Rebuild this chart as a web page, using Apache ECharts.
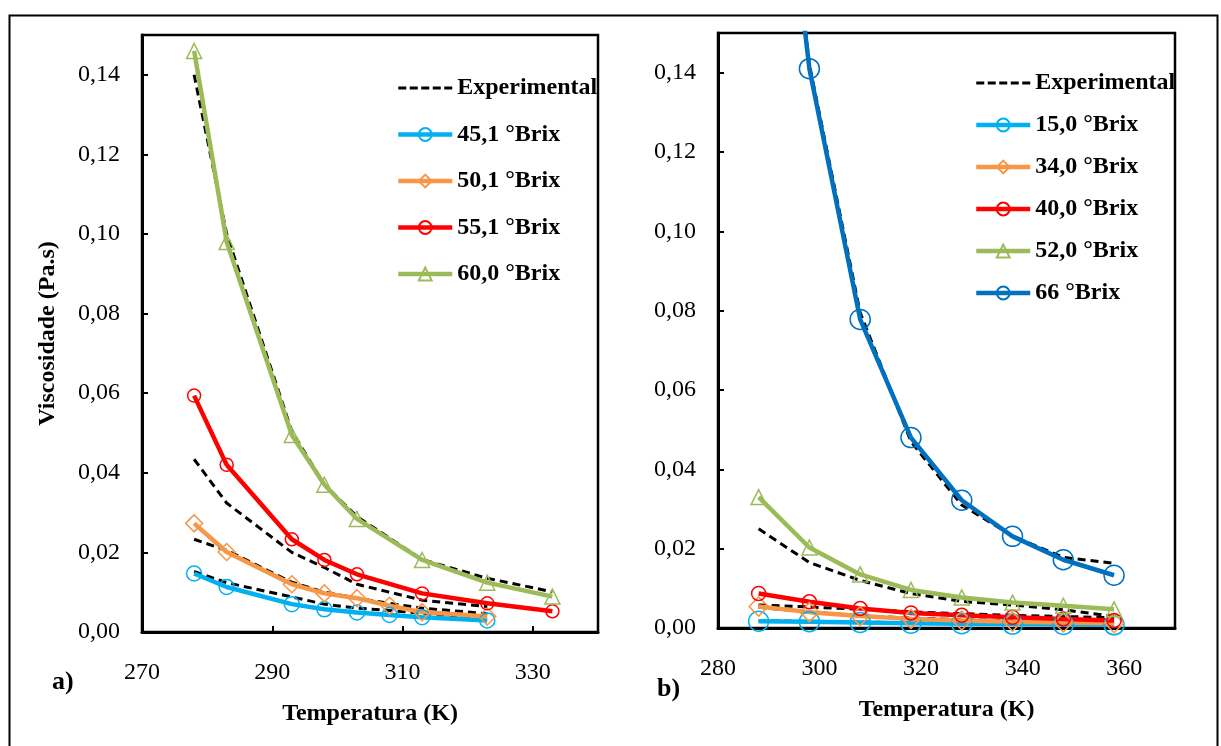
<!DOCTYPE html>
<html lang="pt">
<head>
<meta charset="UTF-8">
<title>Viscosidade x Temperatura</title>
<script src="https://cdn.jsdelivr.net/npm/echarts@6/dist/echarts.min.js"></script>
<style>
  html, body { margin: 0; padding: 0; background: #fff; }
  #main { width: 1221px; height: 746px; }
</style>
</head>
<body>
<div id="main"></div>
<script>
// ---- panel a) ----
const tempA = [278, 283, 293, 298, 303, 308, 313, 323, 333];
const mod451 = [0.0147, 0.0113, 0.0070, 0.0057, 0.0049, 0.0043, 0.0037, 0.0029, null];
const mod501 = [0.0273, 0.0201, 0.0120, 0.0097, 0.0085, 0.0066, 0.0050, 0.0039, null];
const mod551 = [0.0594, 0.0420, 0.0233, 0.0181, 0.0145, null, 0.0097, 0.0072, 0.0052];
const mod600 = [0.1460, 0.0980, 0.0495, 0.0370, 0.0284, null, 0.0181, 0.0124, 0.0089];
const exp451 = [0.0152, 0.0124, 0.0088, 0.0070, 0.0060, 0.0054, 0.0047, 0.0036, null];
const exp501 = [0.0233, 0.0205, 0.0125, 0.0100, 0.0085, 0.0072, 0.0060, 0.0046, null];
const exp551 = [0.0434, 0.0324, 0.0200, 0.0162, 0.0120, null, 0.0080, 0.0064, null];
const exp600 = [0.1400, 0.1000, 0.0504, 0.0370, 0.0290, null, 0.0182, 0.0135, 0.0101];

// ---- panel b) ----
const tempB = [288, 298, 308, 318, 328, 338, 348, 358];
const mod150 = [0.0017, 0.0016, 0.0014, 0.0012, 0.0011, 0.0010, 0.0009, 0.0008];
const mod340 = [0.0054, 0.0040, 0.0030, 0.0023, 0.0019, 0.0016, 0.0014, 0.0012];
const mod400 = [0.0087, 0.0066, 0.0049, 0.0038, 0.0032, 0.0027, 0.0023, 0.0019];
const mod520 = [0.0330, 0.0203, 0.0135, 0.0096, 0.0077, 0.0064, 0.0056, 0.0047];
const mod66 = [0.2500, 0.1410, 0.0778, 0.0480, 0.0322, 0.0231, 0.0172, 0.0133];
const exp150 = [0.0018, 0.0017, 0.0015, 0.0013, 0.0012, 0.0011, 0.0010, 0.0009];
const exp340 = [0.0052, 0.0040, 0.0031, 0.0025, 0.0021, 0.0018, 0.0016, 0.0014];
const exp400 = [0.0058, 0.0053, 0.0047, 0.0041, 0.0036, 0.0032, 0.0029, 0.0026];
const exp520 = [0.0250, 0.0165, 0.0120, 0.0087, 0.0067, 0.0058, 0.0046, 0.0029];
const exp66 = [0.2550, 0.1420, 0.0795, 0.0470, 0.0310, 0.0232, 0.0178, 0.0163];

const legendA = ['Experimental', '45,1 °Brix', '50,1 °Brix', '55,1 °Brix', '60,0 °Brix'];
const legendB = ['Experimental', '15,0 °Brix', '34,0 °Brix', '40,0 °Brix', '52,0 °Brix', '66 °Brix'];

const serif = 'Liberation Serif';
const dashIcon = 'path://M0,0h8v3h-8z M11.5,0h8v3h-8z M23,0h8v3h-8z M34.5,0h8v3h-8z M46,0h8v3h-8z';

function pairs(temps, vals) {
  return temps.map((t, i) => [t, vals[i]]).filter(p => p[1] != null);
}

function expSeries(temps, vals, gi) {
  return {
    name: 'Experimental', type: 'line', xAxisIndex: gi, yAxisIndex: gi,
    data: pairs(temps, vals), symbol: 'none', z: 2,
    lineStyle: { color: '#000', width: 3, type: [8, 5] },
    itemStyle: { color: '#000' }
  };
}

function modSeries(name, temps, vals, color, symbol, size, gi) {
  return {
    name, type: 'line', xAxisIndex: gi, yAxisIndex: gi,
    data: pairs(temps, vals), symbol, symbolSize: size, z: 3,
    lineStyle: { color, width: 4.5 },
    itemStyle: { color: 'rgba(255,255,255,0)', borderColor: color, borderWidth: 1.5 }
  };
}

const fmtY = v => v.toFixed(2).replace('.', ',');
const tickText = { color: '#000', fontFamily: serif, fontSize: 24 };
const nameText = { color: '#000', fontFamily: serif, fontSize: 24, fontWeight: 'bold' };

function xAxis(gi, min, max, showTicks) {
  return {
    gridIndex: gi, type: 'value', min, max, interval: 20,
    name: 'Temperatura (K)', nameLocation: 'middle', nameGap: 70, nameTextStyle: nameText,
    axisLine: { lineStyle: { color: '#000', width: 3 } },
    axisTick: { show: showTicks, inside: true, length: 6, lineStyle: { color: '#000', width: 2 } },
    axisLabel: { ...tickText, margin: 29, showMaxLabel: false },
    splitLine: { show: false }
  };
}

function yAxis(gi, withName) {
  return {
    gridIndex: gi, type: 'value', min: 0, max: 0.15, interval: 0.02,
    name: withName ? 'Viscosidade (Pa.s)' : '', nameLocation: 'middle', nameGap: 82,
    nameTextStyle: nameText,
    axisLine: { show: true, lineStyle: { color: '#000', width: 3 } },
    axisTick: { show: true, inside: true, length: 6, lineStyle: { color: '#000', width: 2 } },
    axisLabel: { ...tickText, margin: 22, formatter: fmtY, showMaxLabel: false },
    splitLine: { show: false }
  };
}

function legend(left, top, gap, names) {
  return {
    orient: 'vertical', left, top, itemWidth: 54, itemHeight: 16, itemGap: gap,
    lineStyle: { width: 4.5 },
    textStyle: { color: '#000', fontFamily: serif, fontSize: 24, fontWeight: 'bold', lineHeight: 24 },
    data: names.map(n => n === 'Experimental' ? { name: n, icon: dashIcon } : n)
  };
}

const option = {
  animation: false,
  backgroundColor: '#fff',
  grid: [
    { left: 142, top: 35, width: 456, height: 597, show: true, borderColor: '#000', borderWidth: 2.5 },
    { left: 718, top: 33, width: 457, height: 595, show: true, borderColor: '#000', borderWidth: 2.5 }
  ],
  xAxis: [xAxis(0, 270, 340, true), xAxis(1, 280, 370, false)],
  yAxis: [yAxis(0, true), yAxis(1, false)],
  legend: [legend(391, 71, 22.5, legendA), legend(969, 66, 18, legendB)],
  graphic: [
    { type: 'rect', left: 7, top: 13, silent: true,
      shape: { width: 1208, height: 760 }, style: { fill: 'none', stroke: '#000', lineWidth: 2 } },
    { type: 'text', left: 52, top: 669,
      style: { text: 'a)', font: 'bold 26px "Liberation Serif"', fill: '#000' } },
    { type: 'text', left: 657, top: 676,
      style: { text: 'b)', font: 'bold 26px "Liberation Serif"', fill: '#000' } }
  ],
  series: [
    expSeries(tempA, exp451, 0),
    expSeries(tempA, exp501, 0),
    expSeries(tempA, exp551, 0),
    expSeries(tempA, exp600, 0),
    modSeries('45,1 °Brix', tempA, mod451, '#00B0F0', 'circle', 15, 0),
    modSeries('50,1 °Brix', tempA, mod501, '#F79646', 'diamond', 17, 0),
    modSeries('55,1 °Brix', tempA, mod551, '#FF0000', 'circle', 13, 0),
    modSeries('60,0 °Brix', tempA, mod600, '#9BBB59', 'triangle', 15, 0),
    expSeries(tempB, exp150, 1),
    expSeries(tempB, exp340, 1),
    expSeries(tempB, exp400, 1),
    expSeries(tempB, exp520, 1),
    expSeries(tempB, exp66, 1),
    modSeries('15,0 °Brix', tempB, mod150, '#00B0F0', 'circle', 20, 1),
    modSeries('34,0 °Brix', tempB, mod340, '#F79646', 'diamond', 19, 1),
    modSeries('40,0 °Brix', tempB, mod400, '#FF0000', 'circle', 14, 1),
    modSeries('52,0 °Brix', tempB, mod520, '#9BBB59', 'triangle', 15, 1),
    modSeries('66 °Brix', tempB, mod66, '#0070C0', 'circle', 20, 1)
  ]
};

const chart = echarts.init(document.getElementById('main'));
chart.setOption(option);
window.onresize = function () { chart.resize(); };
</script>
</body>
</html>
